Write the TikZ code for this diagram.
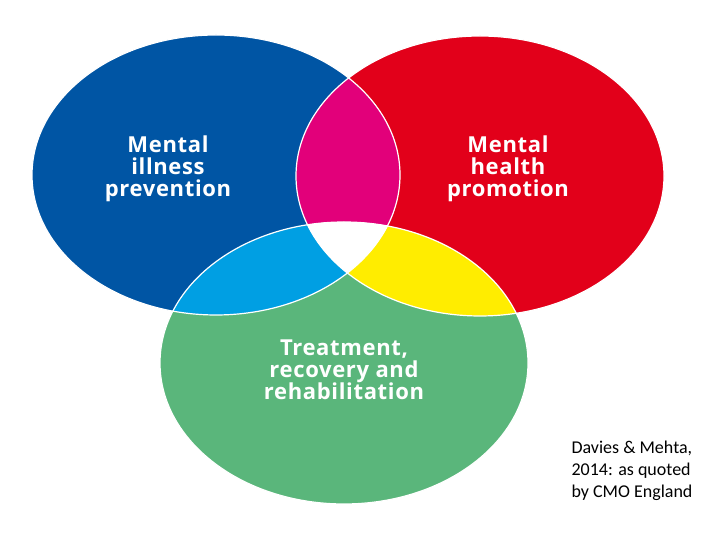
\documentclass[tikz,border=0pt]{standalone}
\usepackage{fontspec}
\newfontfamily\circlefont[LetterSpace=3]{Open Sans}
\newfontfamily\notefont{Carlito}

\definecolor{prevblue}{RGB}{0,85,164}
\definecolor{promred}{RGB}{226,0,26}
\definecolor{treatgreen}{RGB}{90,182,123}
\definecolor{overmagenta}{RGB}{226,0,122}
\definecolor{overcyan}{RGB}{0,159,227}
\definecolor{overyellow}{RGB}{255,237,0}

\tikzset{
  circlelabel/.style={text=white, align=center, font=\circlefont\bfseries\fontsize{22}{22}\selectfont},
  notelabel/.style={text=black, align=left, font=\notefont\fontsize{18}{22}\selectfont}
}

\begin{document}
\begin{tikzpicture}[x=1pt,y=1pt]
  \useasboundingbox (0,0) rectangle (720,540);
  \fill[prevblue] (216,365) ellipse (184 and 140);
  \fill[promred] (480,364) ellipse (184 and 140);
  \fill[treatgreen] (344,177) ellipse (184 and 141);
  \begin{scope}
    \clip (216,365) ellipse (184 and 140);
    \fill[overmagenta] (480,364) ellipse (184 and 140);
    \fill[overcyan] (344,177) ellipse (184 and 141);
    \clip (480,364) ellipse (184 and 140);
    \fill[white] (344,177) ellipse (184 and 141);
  \end{scope}
  \begin{scope}
    \clip (480,364) ellipse (184 and 140);
    \clip (344,177) ellipse (184 and 141);
    \fill[overyellow] (480,364) ellipse (184 and 140);
    \clip (216,365) ellipse (184 and 140);
    \fill[white] (344,177) ellipse (184 and 141);
  \end{scope}
  \draw[white, line width=1.2pt] (216,365) ellipse (184 and 140);
  \draw[white, line width=1.2pt] (480,364) ellipse (184 and 140);
  \draw[white, line width=1.2pt] (344,177) ellipse (184 and 141);
  \node[circlelabel] (prevention) at (168,371) {Mental\\illness\\prevention};
  \node[circlelabel] (promotion) at (508,371) {Mental\\health\\promotion};
  \node[circlelabel] (treatment) at (344,170) {Treatment,\\recovery and\\rehabilitation};
  \node[notelabel, anchor=west] (source) at (568,69) {Davies \& Mehta,\\2014: as quoted\\by CMO England};
\end{tikzpicture}
\end{document}
